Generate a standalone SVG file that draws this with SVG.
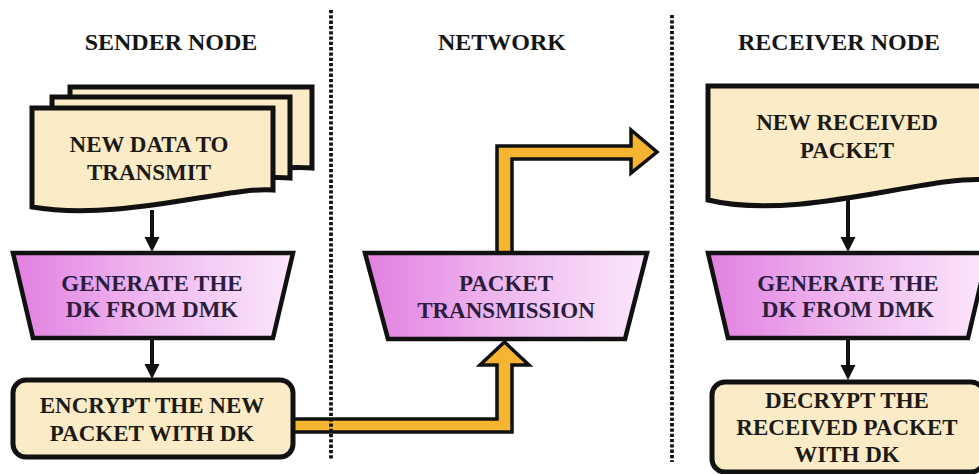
<svg xmlns="http://www.w3.org/2000/svg" width="979" height="474" viewBox="0 0 979 474">
  <style>
    .hdr { font-family: "Liberation Serif", "Times New Roman", serif; font-weight: bold; font-size: 24px; fill: #151515; text-anchor: middle; }
    .lbl { font-family: "Liberation Serif", "Times New Roman", serif; font-weight: bold; font-size: 23px; text-anchor: middle; }
    .dark { fill: #1c1a17; }
    .purp { fill: #2b1d3d; }
    .doc { fill: #fbebc6; stroke: #111; stroke-width: 5; stroke-linejoin: miter; }
    .box { fill: #fbebc6; stroke: #111; stroke-width: 5; }
    .proc { fill: url(#pinkGrad); stroke: #111; stroke-width: 4.5; stroke-linejoin: miter; }
    .flow { stroke: #111; stroke-width: 4; fill: none; marker-end: url(#ah); }
    .pipe { fill: #f6b530; stroke: #111; stroke-width: 3.5; stroke-linejoin: miter; }
    .divider { stroke: #111; stroke-width: 3.8; stroke-dasharray: 3.3 2; fill: none; }
  </style>
  <defs>
    <linearGradient id="pinkGrad" x1="0" y1="0" x2="1" y2="0">
      <stop offset="0" stop-color="#e27fe1"/>
      <stop offset="0.5" stop-color="#efbaef"/>
      <stop offset="1" stop-color="#fbe7fb"/>
    </linearGradient>
    <marker id="ah" markerUnits="userSpaceOnUse" markerWidth="17" markerHeight="17" viewBox="0 0 17 17" refX="2" refY="8.5" orient="auto">
      <path d="M0,1 L15,8.5 L0,16 Z" fill="#111"/>
    </marker>
  </defs>

  <rect x="0" y="0" width="979" height="474" fill="#fff"/>

  <!-- column headings -->
  <text class="hdr" x="171" y="50">SENDER NODE</text>
  <text class="hdr" x="502" y="50">NETWORK</text>
  <text class="hdr" x="839" y="50">RECEIVER NODE</text>

  <!-- connectors -->
  <g id="connectors">
    <line class="flow" x1="152" y1="210" x2="152" y2="239"/>
    <line class="flow" x1="152" y1="338" x2="152" y2="366"/>
    <line class="flow" x1="848" y1="199" x2="848" y2="239"/>
    <line class="flow" x1="848" y1="338" x2="848" y2="367"/>
    <!-- encrypted packet into the network -->
    <polygon class="pipe" points="293,419 497,419 497,365 480,365 504.5,342 529,365 512,365 512,432 293,432"/>
    <!-- network out to the receiver -->
    <polygon class="pipe" points="497,253 497,146 631,146 631,130 657,152 631,173 631,159 512,159 512,253"/>
  </g>

  <!-- sender side -->
  <g id="new-data">
    <path class="doc" d="M70,87 H312 V168 C280,165 200,175 70,180 Z"/>
    <path class="doc" d="M52,97 H290 V178 C260,175 180,185 52,190 Z"/>
    <path class="doc" d="M32,108 H273 V190 C230,186 120,222 32,207 Z"/>
    <text class="lbl dark" x="149" y="152">NEW DATA TO</text>
    <text class="lbl dark" x="149" y="180">TRANSMIT</text>
  </g>
  <g id="sender-generate-dk">
    <polygon class="proc" points="13,253 293,253 273,338 33,338"/>
    <text class="lbl purp" x="152" y="291">GENERATE THE</text>
    <text class="lbl purp" x="152" y="317">DK FROM DMK</text>
  </g>
  <g id="encrypt">
    <rect class="box" x="13" y="380" width="280" height="77" rx="13"/>
    <text class="lbl dark" x="152" y="413">ENCRYPT THE NEW</text>
    <text class="lbl dark" x="152" y="441">PACKET WITH DK</text>
  </g>

  <!-- network -->
  <g id="packet-transmission">
    <polygon class="proc" points="365,253 647,253 625,339 388,339"/>
    <text class="lbl purp" x="506" y="291">PACKET</text>
    <text class="lbl purp" x="506" y="318">TRANSMISSION</text>
  </g>

  <!-- receiver side -->
  <g id="received-packet">
    <path class="doc" d="M708,86 H988 V180 C930,174 800,222 708,200 Z"/>
    <text class="lbl dark" x="847" y="130">NEW RECEIVED</text>
    <text class="lbl dark" x="847" y="158">PACKET</text>
  </g>
  <g id="receiver-generate-dk">
    <polygon class="proc" points="708,253 988,253 968,338 728,338"/>
    <text class="lbl purp" x="848" y="291">GENERATE THE</text>
    <text class="lbl purp" x="848" y="317">DK FROM DMK</text>
  </g>
  <g id="decrypt">
    <rect class="box" x="712" y="382" width="272" height="90" rx="13"/>
    <text class="lbl dark" x="847" y="408">DECRYPT THE</text>
    <text class="lbl dark" x="847" y="435">RECEIVED PACKET</text>
    <text class="lbl dark" x="847" y="462">WITH DK</text>
  </g>

  <!-- dotted dividers between the three columns -->
  <line class="divider" x1="331" y1="10" x2="331" y2="460"/>
  <line class="divider" x1="672" y1="15" x2="672" y2="462"/>
</svg>
